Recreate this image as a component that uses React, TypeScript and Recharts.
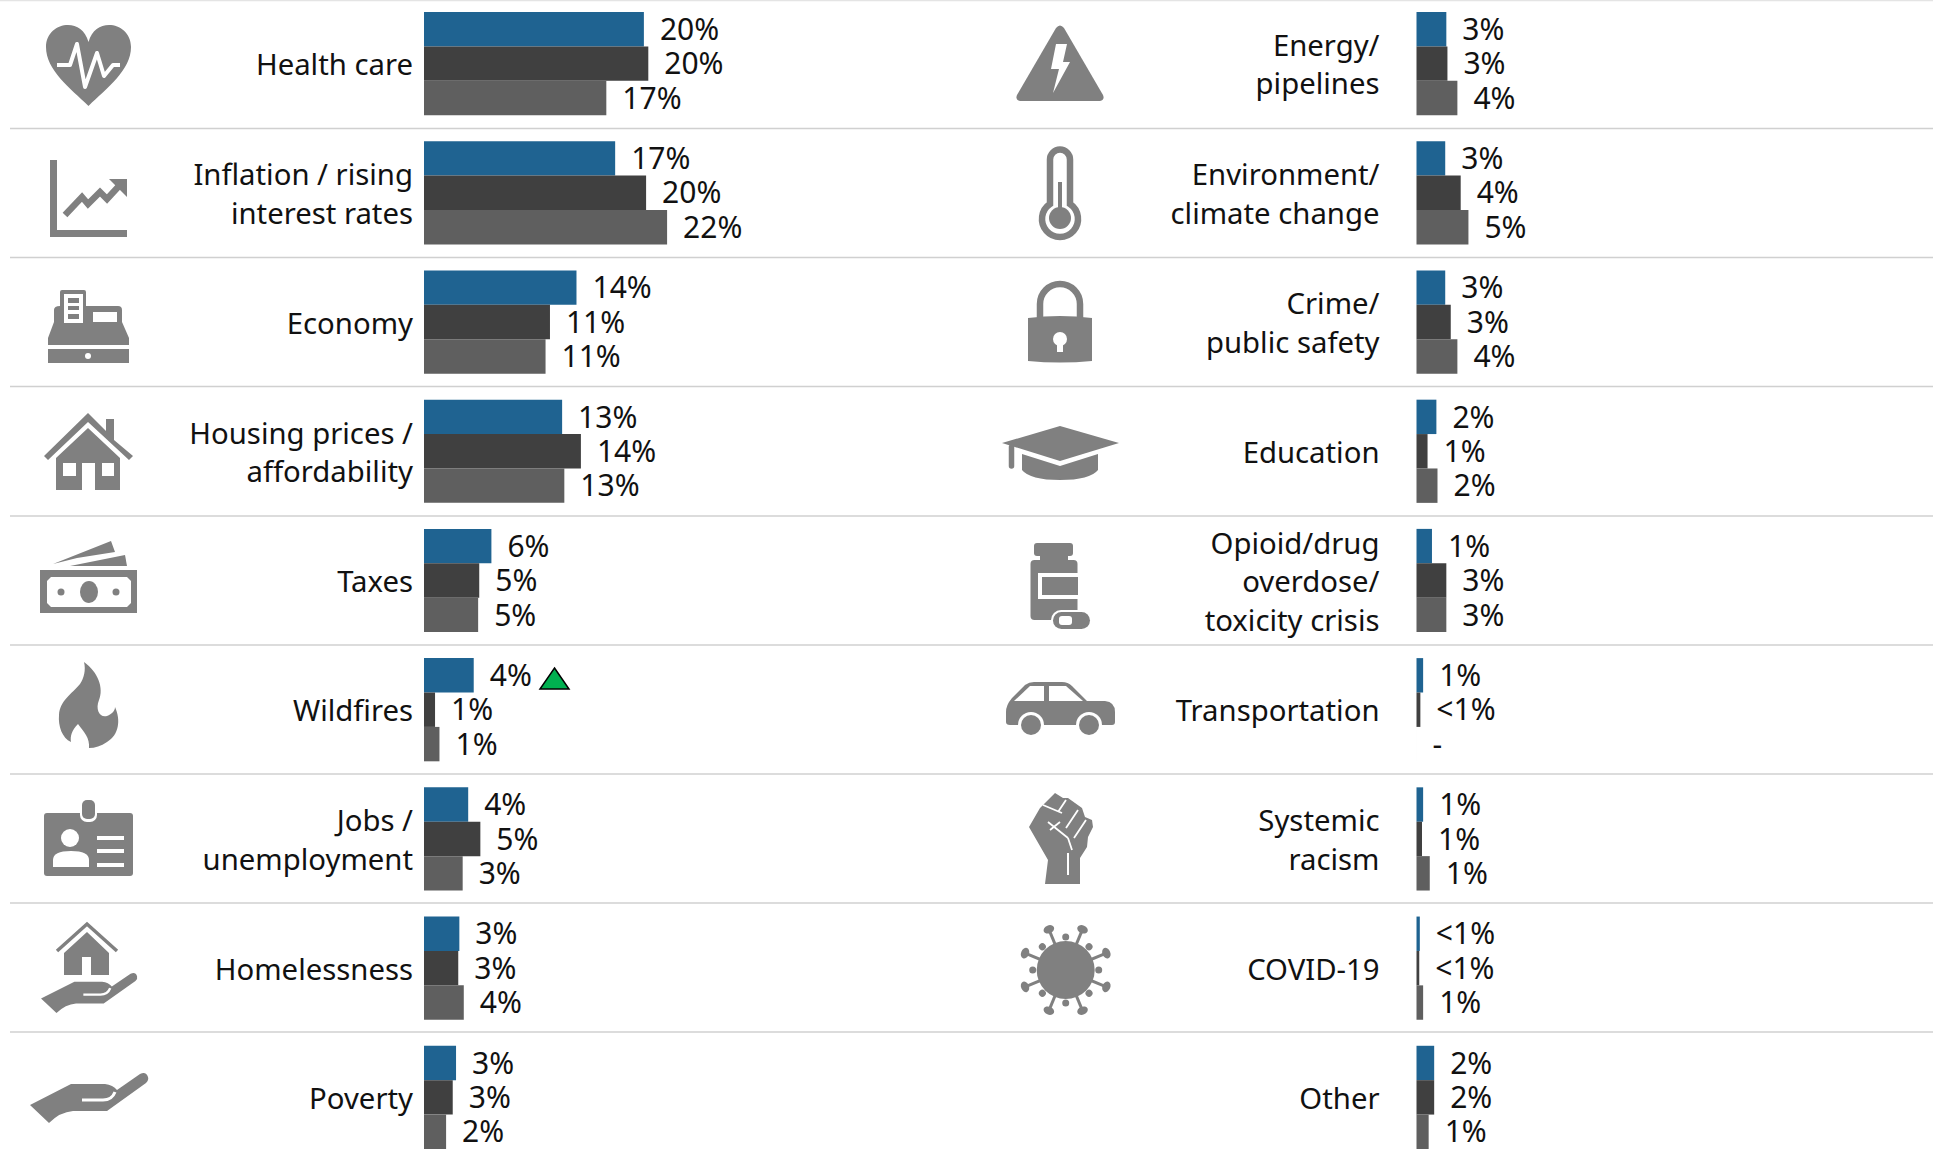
import React from 'react'
import { BarChart, Bar, XAxis, YAxis, LabelList } from 'recharts'

const leftCategories = ['Health care', 'Inflation / rising|interest rates', 'Economy', 'Housing prices /|affordability', 'Taxes', 'Wildfires', 'Jobs /|unemployment', 'Homelessness', 'Poverty']
const leftCurrent = [19.9, 17.3, 13.8, 12.5, 6.1, 4.5, 4.0, 3.2, 2.9]
const leftPrior = [20.3, 20.1, 11.4, 14.2, 5.0, 1.0, 5.1, 3.1, 2.6]
const leftOlder = [16.5, 22.0, 11.0, 12.7, 4.9, 1.4, 3.5, 3.6, 2.0]
const leftCurrentLabels = ['20%', '17%', '14%', '13%', '6%', '4%', '4%', '3%', '3%']
const leftPriorLabels = ['20%', '20%', '11%', '14%', '5%', '1%', '5%', '3%', '3%']
const leftOlderLabels = ['17%', '22%', '11%', '13%', '5%', '1%', '3%', '4%', '2%']

const rightCategories = ['Energy/|pipelines', 'Environment/|climate change', 'Crime/|public safety', 'Education', 'Opioid/drug|overdose/|toxicity crisis', 'Transportation', 'Systemic|racism', 'COVID-19', 'Other']
const rightCurrent = [2.7, 2.6, 2.6, 1.8, 1.4, 0.6, 0.6, 0.3, 1.6]
const rightPrior = [2.8, 4.0, 3.1, 1.0, 2.7, 0.35, 0.5, 0.25, 1.6]
const rightOlder = [3.7, 4.7, 3.7, 1.9, 2.7, 0.001, 1.2, 0.6, 1.1]
const rightCurrentLabels = ['3%', '3%', '3%', '2%', '1%', '1%', '1%', '<1%', '2%']
const rightPriorLabels = ['3%', '4%', '3%', '1%', '3%', '<1%', '1%', '<1%', '2%']
const rightOlderLabels = ['4%', '5%', '4%', '2%', '3%', '-', '1%', '1%', '1%']

const BLUE = '#1f6391'
const DARK = '#404040'
const MID = '#5f5f5f'
const ICON = '#808080'
const FONT = '"Noto Sans", sans-serif'
const FONT_SIZE = 30
const CATEGORY_FONT_SIZE = 29.3
const CHART_HEIGHT = 1163
const PLOT_WIDTH = 500
const X_MAX = 45.25

const separators = [0.5, 128.5, 257.5, 386.5, 516, 645, 774, 903, 1032]
const bigSpikes = [22.5, 67.5, 112.5, 157.5, 202.5, 247.5, 292.5, 337.5]
const smallSpikes = [0, 45, 90, 135, 180, 225, 270, 315]

function CategoryTick({ x, y, payload }: any) {
  const lines = String(payload.value).split('|')
  const top = y + 1 - ((lines.length - 1) * 38.5) / 2
  return (
    <text x={x} textAnchor="end" fill="#111" fontSize={CATEGORY_FONT_SIZE} fontFamily={FONT}>
      {lines.map((line, i) => (
        <tspan key={i} x={x} y={top + i * 38.5} dy="0.36em">{line}</tspan>
      ))}
    </text>
  )
}

function Panel({ categories, current, prior, older, currentLabels, priorLabels, olderLabels, left, axisWidth, tickGap }: any) {
  const rows = categories.map((name: string, i: number) => ({
    name,
    current: current[i],
    prior: prior[i],
    older: older[i],
    currentLabel: currentLabels[i],
    priorLabel: priorLabels[i],
    olderLabel: olderLabels[i],
  }))
  const series = [
    ['current', 'currentLabel', BLUE],
    ['prior', 'priorLabel', DARK],
    ['older', 'olderLabel', MID],
  ]
  return (
    <div style={{ position: 'absolute', left, top: -1 }}>
      <BarChart
        layout="vertical"
        width={axisWidth + PLOT_WIDTH}
        height={CHART_HEIGHT}
        data={rows}
        margin={{ top: 0, right: 0, bottom: 0, left: 0 }}
        barSize={34.4}
        barGap={0}
      >
        <XAxis type="number" hide domain={[0, X_MAX]} />
        <YAxis
          type="category"
          dataKey="name"
          width={axisWidth}
          axisLine={false}
          tickLine={false}
          tickSize={0}
          tickMargin={tickGap}
          interval={0}
          tick={<CategoryTick />}
        />
        {series.map(([key, label, color]) => (
          <Bar key={key} dataKey={key} fill={color} isAnimationActive={false}>
            <LabelList dataKey={label} position="right" offset={16} fill="#111" fontSize={FONT_SIZE} fontFamily={FONT} />
          </Bar>
        ))}
      </BarChart>
    </div>
  )
}

// hand used by the homelessness and poverty icons, drawn at poverty size
function Hand({ transform }: { transform?: string }) {
  return (
    <g transform={transform}>
      <path d="M30 1105 L71 1084 H105 Q113 1085 117 1090 L140 1074 Q146 1071 148 1077 Q149 1080 146 1083 L107 1111 H73 Q60 1112 49 1123 Z" fill={ICON} />
      <path d="M82 1100 H103 Q112 1100 115 1092" stroke="#fff" strokeWidth={3} fill="none" />
    </g>
  )
}

function Icons() {
  return (
    <svg width={1933} height={1153} style={{ position: 'absolute', left: 0, top: 0 }}>
      {separators.map((y) => (
        <line key={y} x1={y < 1 ? 0 : 10} x2={1933} y1={y} y2={y} stroke={y < 1 ? '#e4e4e4' : '#d0d0d0'} strokeWidth={1.5} />
      ))}

      {/* heart */}
      <path d="M88.5 106 C70 88 46 70 46 47 C46 33 57 25 68 25 C77 25 85 30 88.5 42 C92 30 100 25 109 25 C120 25 131 33 131 47 C131 70 107 88 88.5 106Z" fill={ICON} />
      <polyline points="57,65 70,65 77,44 85,87 97,53 104,76 113,65 120,65" fill="none" stroke="#fff" strokeWidth={4} strokeLinejoin="round" />

      {/* line chart */}
      <path d="M50 160 H57 V230 H127 V237 H50 Z" fill={ICON} />
      <polyline points="65,215 82,197 88,204 100,192 107,199 119,186" fill="none" stroke={ICON} strokeWidth={6.5} />
      <polygon points="109,179 127,179 127,197" fill={ICON} />

      {/* cash register */}
      <path d="M60 306 V292 Q60 290 62 290 H84 Q86 290 86 292 V306 H118 Q122 306 122 310 V322 L129 338 V345 H48 V338 L54 322 V310 Q54 306 60 306 Z" fill={ICON} />
      <rect x={64} y={294} width={19} height={29} fill="#fff" />
      <rect x={68} y={298} width={11} height={5} fill={ICON} />
      <rect x={68} y={306} width={11} height={4} fill={ICON} />
      <rect x={68} y={314} width={11} height={5} fill={ICON} />
      <rect x={93} y={312} width={24} height={10} fill="#fff" />
      <rect x={48} y={349} width={81} height={14} fill={ICON} />
      <circle cx={88} cy={356} r={3} fill="#fff" />

      {/* house */}
      <path d="M44 456 L88 413 L106 431 V419 H114 V440 L133 456 L129 460 L88 422 L48 460 Z" fill={ICON} />
      <path d="M88 428 L120 458 V490 H95 V463 H82 V490 H56 V458 Z" fill={ICON} />
      <rect x={63} y={463} width={13} height={13} fill="#fff" />
      <rect x={102} y={463} width={12} height={13} fill="#fff" />

      {/* cash */}
      <polygon points="53,564 111,541 115,552 77,558" fill={ICON} />
      <polygon points="70,566 125,555 127,566" fill={ICON} />
      <rect x={40} y={570} width={97} height={43} fill={ICON} />
      <path d="M51 577 H127 L131 581 V603 L127 607 H51 L47 603 V581 Z" fill="#fff" />
      <ellipse cx={89} cy={592} rx={9} ry={11} fill={ICON} />
      <circle cx={61} cy={592} r={3.5} fill={ICON} />
      <circle cx={116} cy={592} r={3.5} fill={ICON} />

      {/* flame */}
      <path d="M84 662 C98 672 104 688 99 700 C95 710 100 718 107 716 C112 714 115 711 115 707 C121 720 119 735 107 742 C101 746 95 748 89 748 C90 738 84 732 78 724 C72 730 70 736 71 742 C62 738 58 726 59 715 C60 700 72 694 80 684 C84 678 86 670 84 662 Z" fill={ICON} />

      {/* id badge */}
      <rect x={44} y={813} width={89} height={63} rx={3} fill={ICON} />
      <rect x={80} y={798} width={17} height={24} rx={7} fill="#fff" />
      <rect x={82} y={800} width={13} height={19} rx={5} fill={ICON} />
      <circle cx={70} cy={838} r={9} fill="#fff" />
      <path d="M53 867 V860 Q53 851 71 851 Q89 851 89 860 V867 Z" fill="#fff" />
      <rect x={97} y={836} width={27} height={4} fill="#fff" />
      <rect x={97} y={849} width={27} height={4} fill="#fff" />
      <rect x={97} y={863} width={27} height={4} fill="#fff" />

      {/* house in hand */}
      <polyline points="57,951 87,924 117,951" fill="none" stroke={ICON} strokeWidth={3.5} />
      <path d="M87 932 L109 953 V975 H91 V957 H82 V975 H64 V953 Z" fill={ICON} />
      <Hand transform="translate(16.6 114.6) scale(0.814 0.8)" />

      {/* open hand */}
      <Hand />

      {/* warning */}
      <path d="M1056 28 Q1060 23 1064 28 L1103 95 Q1105 100 1100 101 H1020 Q1015 100 1017 95 Z" fill={ICON} />
      <polygon points="1056,44 1067,44 1063,62 1070,62 1053,93 1059,69 1051,69" fill="#fff" />

      {/* thermometer */}
      <path d="M1050 204 V159.500 A10 10 0 0 1 1070 159.500 V204 A18 18 0 1 1 1050 204 Z" fill="#fff" stroke={ICON} strokeWidth={6.5} />
      <rect x={1058} y={182} width={4} height={30} fill={ICON} />
      <circle cx={1060} cy={218} r={11} fill={ICON} />

      {/* lock */}
      <path d="M1040 320 V304 A20 20 0 0 1 1080 304 V320" fill="none" stroke={ICON} strokeWidth={6.5} />
      <path d="M1028 318 Q1060 314 1092 318 V361 Q1060 364 1028 361 Z" fill={ICON} />
      <circle cx={1060} cy={339} r={7} fill="#fff" />
      <rect x={1057} y={340} width={6} height={12} fill="#fff" />

      {/* graduation cap */}
      <polygon points="1060,426 1119,443 1060,461 1002,443" fill={ICON} />
      <path d="M1022 454 L1060 466 L1098 454 V470 Q1090 480 1060 480 Q1030 480 1022 470 Z" fill={ICON} />
      <path d="M1011.500 447 V466" stroke={ICON} strokeWidth={5.5} strokeLinecap="round" />

      {/* pill bottle */}
      <rect x={1034} y={543} width={39} height={13} rx={3} fill={ICON} />
      <rect x={1040} y={555} width={28} height={6} fill={ICON} />
      <rect x={1030.5} y={560} width={47} height={60} rx={4} fill={ICON} />
      <rect x={1038} y={573} width={40} height={26} fill="#fff" />
      <rect x={1042} y={577} width={36} height={18} fill={ICON} />
      <rect x={1051} y={610} width={41} height={21} rx={10} fill="#fff" />
      <rect x={1053} y={612} width={37} height={17} rx={8.5} fill={ICON} />
      <rect x={1059} y={616} width={13} height={9} rx={3} fill="#fff" />

      {/* car */}
      <path d="M1006 712 Q1006 705 1012 698 L1025 685 Q1029 682 1034 682 H1062 Q1068 682 1072 686 L1087 701 H1105 Q1115 702 1115 712 V722 Q1115 725 1112 725 H1010 Q1006 725 1006 722 Z" fill={ICON} />
      <polygon points="1014,701 1030,686 1044,686 1044,701" fill="#fff" />
      <polygon points="1049,686 1066,686 1083,701 1049,701" fill="#fff" />
      <circle cx={1031} cy={725} r={13} fill="#fff" />
      <circle cx={1089} cy={725} r={13} fill="#fff" />
      <circle cx={1031} cy={725} r={10} fill={ICON} />
      <circle cx={1089} cy={725} r={10} fill={ICON} />

      {/* fist */}
      <path d="M1045 803 L1055 793 L1063 798 L1068 798 L1075 803 L1082 808 L1085 817 L1092 820 L1093 827 L1088 837 L1087 847 L1080 858 L1080 884 L1045 884 L1048 860 L1029 827 L1040 808 Z" fill={ICON} />
      <path d="M1043 805 L1062 813 M1066 800 L1058 812 M1078 810 L1066 828 M1086 820 L1074 838 M1048 822 L1068 838 M1060 822 L1050 830 M1068 838 L1072 850" stroke="#fff" strokeWidth={1.8} fill="none" />
      <path d="M1068 853 V875" stroke="#fff" strokeWidth={2} />

      {/* virus */}
      <circle cx={1065.7} cy={970} r={29} fill={ICON} />
      {bigSpikes.map((angle) => (
        <g key={angle} transform={`rotate(${angle} 1065.7 970)`}>
          <line x1={1065.7} y1={970} x2={1065.7} y2={928} stroke={ICON} strokeWidth={3} />
          <ellipse cx={1065.7} cy={926} rx={5.5} ry={4} fill={ICON} />
        </g>
      ))}
      {smallSpikes.map((angle) => (
        <g key={angle} transform={`rotate(${angle} 1065.7 970)`}>
          <circle cx={1065.7} cy={937} r={3.5} fill={ICON} />
        </g>
      ))}

      {/* rise marker next to Wildfires */}
      <polygon points="554.500,668 569,689 540,689" fill="#00b050" stroke="#000" strokeWidth={1.5} />
    </svg>
  )
}

export default function App() {
  return (
    <div style={{ position: 'absolute', left: 0, top: 0, width: 1933, height: 1153, overflow: 'hidden', background: '#fff' }}>
      <Icons />
      <Panel
        categories={leftCategories}
        current={leftCurrent}
        prior={leftPrior}
        older={leftOlder}
        currentLabels={leftCurrentLabels}
        priorLabels={leftPriorLabels}
        olderLabels={leftOlderLabels}
        left={0}
        axisWidth={424}
        tickGap={11}
      />
      <Panel
        categories={rightCategories}
        current={rightCurrent}
        prior={rightPrior}
        older={rightOlder}
        currentLabels={rightCurrentLabels}
        priorLabels={rightPriorLabels}
        olderLabels={rightOlderLabels}
        left={966}
        axisWidth={450.5}
        tickGap={37}
      />
    </div>
  )
}
